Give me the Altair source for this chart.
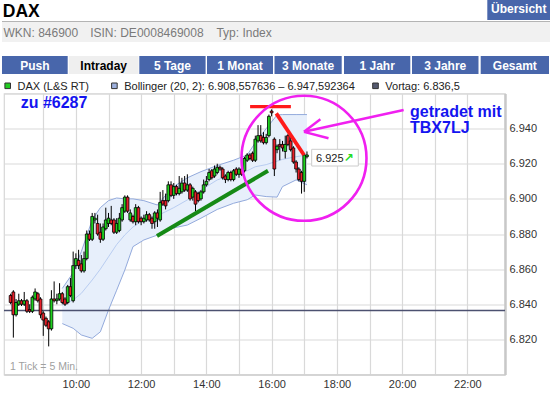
import altair as alt
import pandas as pd

FONT = "Liberation Sans"

# ---------------- data ----------------
START_HOUR = 8
TICK_MIN = 5

opens = [6845, 6847, 6834, 6840, 6842, 6840, 6842, 6837, 6836, 6843,
         6846, 6843, 6835, 6832, 6830, 6826, 6843, 6842, 6843, 6846,
         6843, 6841, 6850, 6842, 6862, 6865, 6863, 6859, 6866, 6880,
         6877, 6888, 6886, 6881, 6877, 6883, 6886, 6888, 6888, 6881,
         6882, 6888, 6893, 6901, 6888, 6890, 6887, 6895, 6889, 6887,
         6888, 6891, 6889, 6887, 6892, 6888, 6899, 6899, 6899, 6908,
         6902, 6907, 6903, 6904, 6909, 6905, 6908, 6901, 6904, 6903,
         6900, 6904, 6908, 6911, 6916, 6913, 6915, 6918, 6917, 6913,
         6911, 6915, 6911, 6917, 6914, 6917, 6916, 6922, 6925, 6926,
         6922, 6933, 6936, 6935, 6932, 6936, 6950, 6934, 6928, 6931,
         6931, 6927, 6936, 6933, 6929, 6921, 6917, 6915, 6910, 6924]
highs = [6846, 6848, 6843, 6846, 6843, 6847, 6843, 6840, 6845, 6849,
         6847, 6844, 6836, 6833, 6831, 6848, 6853, 6846, 6852, 6847,
         6844, 6851, 6855, 6870, 6869, 6871, 6868, 6870, 6882, 6882,
         6892, 6892, 6891, 6886, 6886, 6895, 6892, 6896, 6889, 6889,
         6892, 6897, 6902, 6902, 6894, 6891, 6897, 6896, 6890, 6891,
         6893, 6892, 6890, 6893, 6894, 6904, 6905, 6903, 6910, 6910,
         6909, 6908, 6913, 6912, 6913, 6914, 6909, 6907, 6905, 6904,
         6905, 6911, 6913, 6917, 6917, 6919, 6920, 6919, 6918, 6914,
         6916, 6916, 6917, 6918, 6918, 6918, 6924, 6926, 6926, 6927,
         6936, 6942, 6942, 6938, 6937, 6948, 6951, 6935, 6931, 6934,
         6933, 6936, 6937, 6936, 6930, 6922, 6918, 6916, 6926, 6927]
lows = [6840, 6821, 6833, 6839, 6839, 6839, 6835, 6835, 6835, 6842,
        6841, 6832, 6822, 6827, 6816, 6825, 6841, 6840, 6842, 6840,
        6839, 6840, 6844, 6841, 6860, 6860, 6858, 6858, 6865, 6876,
        6876, 6886, 6879, 6875, 6876, 6882, 6884, 6885, 6880, 6880,
        6881, 6887, 6892, 6892, 6887, 6886, 6885, 6886, 6885, 6886,
        6887, 6887, 6883, 6883, 6884, 6887, 6896, 6894, 6898, 6901,
        6900, 6902, 6902, 6903, 6904, 6904, 6899, 6899, 6893, 6898,
        6899, 6903, 6907, 6910, 6911, 6912, 6914, 6916, 6911, 6909,
        6910, 6910, 6910, 6913, 6912, 6913, 6915, 6921, 6922, 6921,
        6921, 6932, 6932, 6931, 6931, 6935, 6947, 6913, 6926, 6922,
        6927, 6923, 6930, 6927, 6920, 6915, 6910, 6903, 6904, 6923]
closes = [6841, 6834, 6841, 6842, 6840, 6842, 6836, 6836, 6844, 6847,
          6842, 6834, 6831, 6828, 6826, 6843, 6842, 6843, 6846, 6841,
          6840, 6850, 6845, 6862, 6866, 6862, 6859, 6866, 6880, 6877,
          6890, 6889, 6880, 6877, 6884, 6888, 6889, 6886, 6881, 6886,
          6889, 6895, 6901, 6893, 6892, 6887, 6895, 6887, 6887, 6889,
          6891, 6888, 6886, 6892, 6889, 6898, 6897, 6896, 6908, 6902,
          6907, 6903, 6906, 6909, 6905, 6908, 6900, 6906, 6897, 6899,
          6904, 6908, 6910, 6915, 6912, 6917, 6918, 6917, 6912, 6911,
          6915, 6911, 6916, 6914, 6917, 6914, 6923, 6925, 6923, 6922,
          6934, 6936, 6933, 6932, 6935, 6947, 6949, 6917, 6930, 6930,
          6929, 6931, 6931, 6928, 6921, 6917, 6911, 6910, 6925, 6925]

band_times = ["09:35", "09:55", "10:10", "10:30", "10:45", "11:00", "11:15", "11:30",
              "11:45", "12:05", "12:30", "12:45", "13:00", "13:25", "13:50", "14:20",
              "14:50", "15:15", "15:30", "15:50", "16:10", "16:20", "16:45", "17:05"]
band_upper = [6849, 6858, 6870, 6888, 6895, 6899, 6900.5, 6900, 6900, 6899, 6896.5, 6902,
              6907, 6912, 6915.5, 6919, 6922, 6925, 6932, 6940, 6947.8, 6948, 6948, 6948]
band_middle = [6839.5, 6842.4, 6846.2, 6853.8, 6860, 6867, 6874, 6879.5, 6884, 6888, 6890.5,
               6892.7, 6895, 6899.4, 6905, 6910.8, 6914, 6916, 6918.3, 6919.5, 6921.5, 6922.5,
               6924, 6925]
band_lower = [6829, 6826.3, 6822.5, 6820.6, 6824.3, 6836.7, 6848, 6859.5, 6872.8, 6876.6,
              6879.4, 6881.3, 6883.5, 6885.1, 6889, 6894, 6897.5, 6899.5, 6902.2, 6901.3,
              6901, 6907, 6910.8, 6908]

VORTAG = 6836.5
x_ticks = list(range(9, 23))
y_ticks = list(range(6800, 6961, 20))
tab_labels = ["Push", "Intraday", "5 Tage", "1 Monat", "3 Monate", "1 Jahr", "3 Jahre", "Gesamt"]
ACTIVE_TAB = "Intraday"
legend_texts = ["DAX (L&S RT)", "Bollinger (20, 2): 6.908,557636 \u2013 6.947,592364", "Vortag: 6.836,5"]

# hand-drawn annotations (time in hours, price)
green_line = {"t": [12.486], "p": [6878.9], "t2": [15.889], "p2": [6916.0]}
red_hline = {"t": [15.34], "t2": [16.59], "p": [6952.5]}
red_diag = {"t": [16.142], "p": [6948.7], "t2": [16.992], "p2": [6925.0]}
circle_c = {"t": [16.992], "p": [6923.1]}
arrow_segs = {"t": [20.047, 16.992, 16.992], "p": [6950.6, 6938.2, 6938.2],
              "t2": [16.992, 17.494, 17.743], "p2": [6938.2, 6945.3, 6934.5]}

# ---------------- layout ----------------
PL, PT, W, H = 4, 93.5, 501, 281
PR = 550 - PL - W
PB = 393 - PT - H
TAB_BLUE = "#4866ab"
GRID = "#d9d9d9"

def hours(s):
    h, m = s.split(":")
    return int(h) + int(m) / 60.0

cdf = pd.DataFrame({"o": opens, "h": highs, "l": lows, "c": closes})
cdf["t"] = [START_HOUR + i * TICK_MIN / 60.0 for i in range(len(cdf))]
cdf["dir"] = ["up" if c >= o else "down" for o, c in zip(opens, closes)]

bdf = pd.DataFrame({"t": [hours(s) for s in band_times], "up": band_upper,
                    "mid": band_middle, "lo": band_lower})

xs = alt.Scale(domain=[7.95, 23.0], nice=False, zero=False)
ys = alt.Scale(domain=[6800, 6960], nice=False, zero=False)

x_axis = alt.Axis(values=x_ticks, labelExpr="datum.value % 2 == 0 ? datum.value + ':00' : ''",
                  grid=True, gridColor=GRID, gridWidth=1.2, tickSize=0, domainColor="#d0d0d0",
                  domainWidth=1.5, labelFont=FONT, labelFontSize=11, labelColor="#333",
                  labelPadding=4, labelFlush=False, title=None)
y_axis = alt.Axis(orient="right", values=y_ticks,
                  labelExpr="datum.value <= 6800 || datum.value >= 6960 ? '' : replace(format(datum.value, ','), ',', '.')",
                  grid=True, gridColor=GRID, gridWidth=1.2, tickSize=0, domainColor="#c8c8c8",
                  domainWidth=2.5, labelFont=FONT, labelFontSize=11, labelColor="#333",
                  labelPadding=4, labelFlush=False, labelBaseline="middle", title=None)

def X(f, **kw):
    return alt.X(f, scale=xs, axis=x_axis, **kw)

def Y(f, **kw):
    return alt.Y(f, scale=ys, axis=y_axis, **kw)

ONE = pd.DataFrame({"k": [0]})

def rect(x1, y1, x2, y2, fill, stroke=None, sw=0.0):
    kw = dict(fill=fill)
    if stroke:
        kw.update(stroke=stroke, strokeWidth=sw)
    return alt.Chart(ONE).mark_rect(**kw).encode(
        x=alt.value(x1 - PL), x2=alt.value(x2 - PL), y=alt.value(y1 - PT), y2=alt.value(y2 - PT))

def label(text, x, y, size, color, weight="normal", align="left", font=FONT):
    return alt.Chart(ONE).mark_text(text=text, fontSize=size, color=color, fontWeight=weight,
                                    align=align, baseline="alphabetic", font=font).encode(
        x=alt.value(x - PL), y=alt.value(y - PT))

layers = []

# ---------- plot ----------
layers.append(alt.Chart(bdf).mark_area(color="#e7effb", opacity=1).encode(
    x=X("t:Q"), y=Y("lo:Q"), y2="up:Q"))
for col, c, w in [("up", "#93aadc", 1), ("lo", "#93aadc", 1), ("mid", "#b9cdf1", 1)]:
    layers.append(alt.Chart(bdf).mark_line(color=c, strokeWidth=w).encode(x=X("t:Q"), y=Y(f"{col}:Q")))

layers.append(alt.Chart(pd.DataFrame({"p": [VORTAG]})).mark_rule(color="#4c5170", strokeWidth=1.5)
              .encode(y=Y("p:Q")))

layers.append(alt.Chart(cdf).mark_rule(color="#000", strokeWidth=1).encode(
    x=X("t:Q"), y=Y("l:Q"), y2="h:Q"))
layers.append(alt.Chart(cdf).mark_bar(size=2.8, stroke="#000", strokeWidth=0.8, orient="vertical").encode(
    x=X("t:Q"), y=Y("o:Q"), y2="c:Q",
    color=alt.Color("dir:N", scale=alt.Scale(domain=["up", "down"], range=["#1fd01f", "#e8202a"]),
                    legend=None)))

# annotations
layers.append(alt.Chart(pd.DataFrame(green_line)).mark_rule(color="#168a16", strokeWidth=4).encode(
    x=X("t:Q"), x2="t2:Q", y=Y("p:Q"), y2="p2:Q"))
layers.append(alt.Chart(pd.DataFrame(red_hline)).mark_rule(color="#ff1a1a", strokeWidth=3.3).encode(
    x=X("t:Q"), x2="t2:Q", y=Y("p:Q")))
layers.append(alt.Chart(pd.DataFrame(red_diag)).mark_rule(color="#ff1a1a", strokeWidth=3.8).encode(
    x=X("t:Q"), x2="t2:Q", y=Y("p:Q"), y2="p2:Q"))
layers.append(alt.Chart(pd.DataFrame(circle_c)).mark_point(
    shape="circle", size=125 ** 2, filled=False, color="#f020f0", strokeWidth=2.6, opacity=1).encode(
    x=X("t:Q"), y=Y("p:Q")))
layers.append(alt.Chart(pd.DataFrame(arrow_segs)).mark_rule(color="#f020f0", strokeWidth=2.4).encode(
    x=X("t:Q"), x2="t2:Q", y=Y("p:Q"), y2="p2:Q"))

# ---------- header ----------
layers.append(label("DAX", 2.8, 17, 17.5, "#000", "bold"))
layers.append(rect(487.3, 0, 550, 20, TAB_BLUE))
layers.append(label("\u00dcbersicht", 518.7, 12.5, 12, "#fff", "bold", "center"))
layers.append(rect(2, 21, 550, 42, "#f1f1f1"))
layers.append(rect(2, 21, 550, 22, "#b4b4b4"))
layers.append(label("WKN: 846900", 3.5, 36.5, 12, "#7a7a7a"))
layers.append(label("ISIN: DE0008469008", 90.2, 36.5, 12, "#7a7a7a"))
layers.append(label("Typ: Index", 216.4, 36.5, 12, "#7a7a7a"))

tab_edges = [(2, 67.7), (68.8, 138.6), (139.3, 205.6), (207, 273), (274.5, 341.7),
             (344, 410.3), (412, 478.5), (480.7, 549)]
for name, (a, b) in zip(tab_labels, tab_edges):
    active = name == ACTIVE_TAB
    layers.append(rect(a, 56, b, 74, "#efefef" if active else TAB_BLUE))
    layers.append(label(name, (a + b) / 2, 69.5, 12, "#000" if active else "#fff", "bold", "center"))

leg_sq = [(4.9, "#22cc22"), (111.6, "#9db0dd"), (372.7, "#555a70")]
for (sx, col), txt in zip(leg_sq, legend_texts):
    layers.append(rect(sx, 83, sx + 5.6, 88.6, col, "#333", 1))
    layers.append(label(txt, sx + 12.6, 90, 11, "#222"))

layers.append(label("getradet mit", 410, 116.7, 16, "#1414f0", "bold"))
layers.append(label("TBX7LJ", 410, 132.7, 16, "#1414f0", "bold"))
layers.append(label("zu #6287", 20.7, 108.3, 16, "#1414f0", "bold"))
layers.append(label("1 Tick = 5 Min.", 10, 370, 10.5, "#a0a0a0"))

# last price box
last_txt = f"{closes[-1]:,}".replace(",", ".")
layers.append(rect(311.7, 149.3, 358.3, 166, "#ffffff", "#cccccc", 1))
layers.append(label(last_txt, 316, 161.7, 11, "#222"))
layers.append(label("\u2197", 343.5, 162, 12, "#22dd22", "bold", font="DejaVu Sans"))

chart = alt.layer(*layers).properties(
    width=W, height=H,
    padding={"left": PL, "top": PT, "right": PR, "bottom": PB},
    autosize=alt.AutoSizeParams(type="none"),
    background="white",
).configure_view(stroke="#d6d6d6", strokeWidth=1.2)

chart.save("out.html", embed_options={"renderer": "svg", "actions": False})
